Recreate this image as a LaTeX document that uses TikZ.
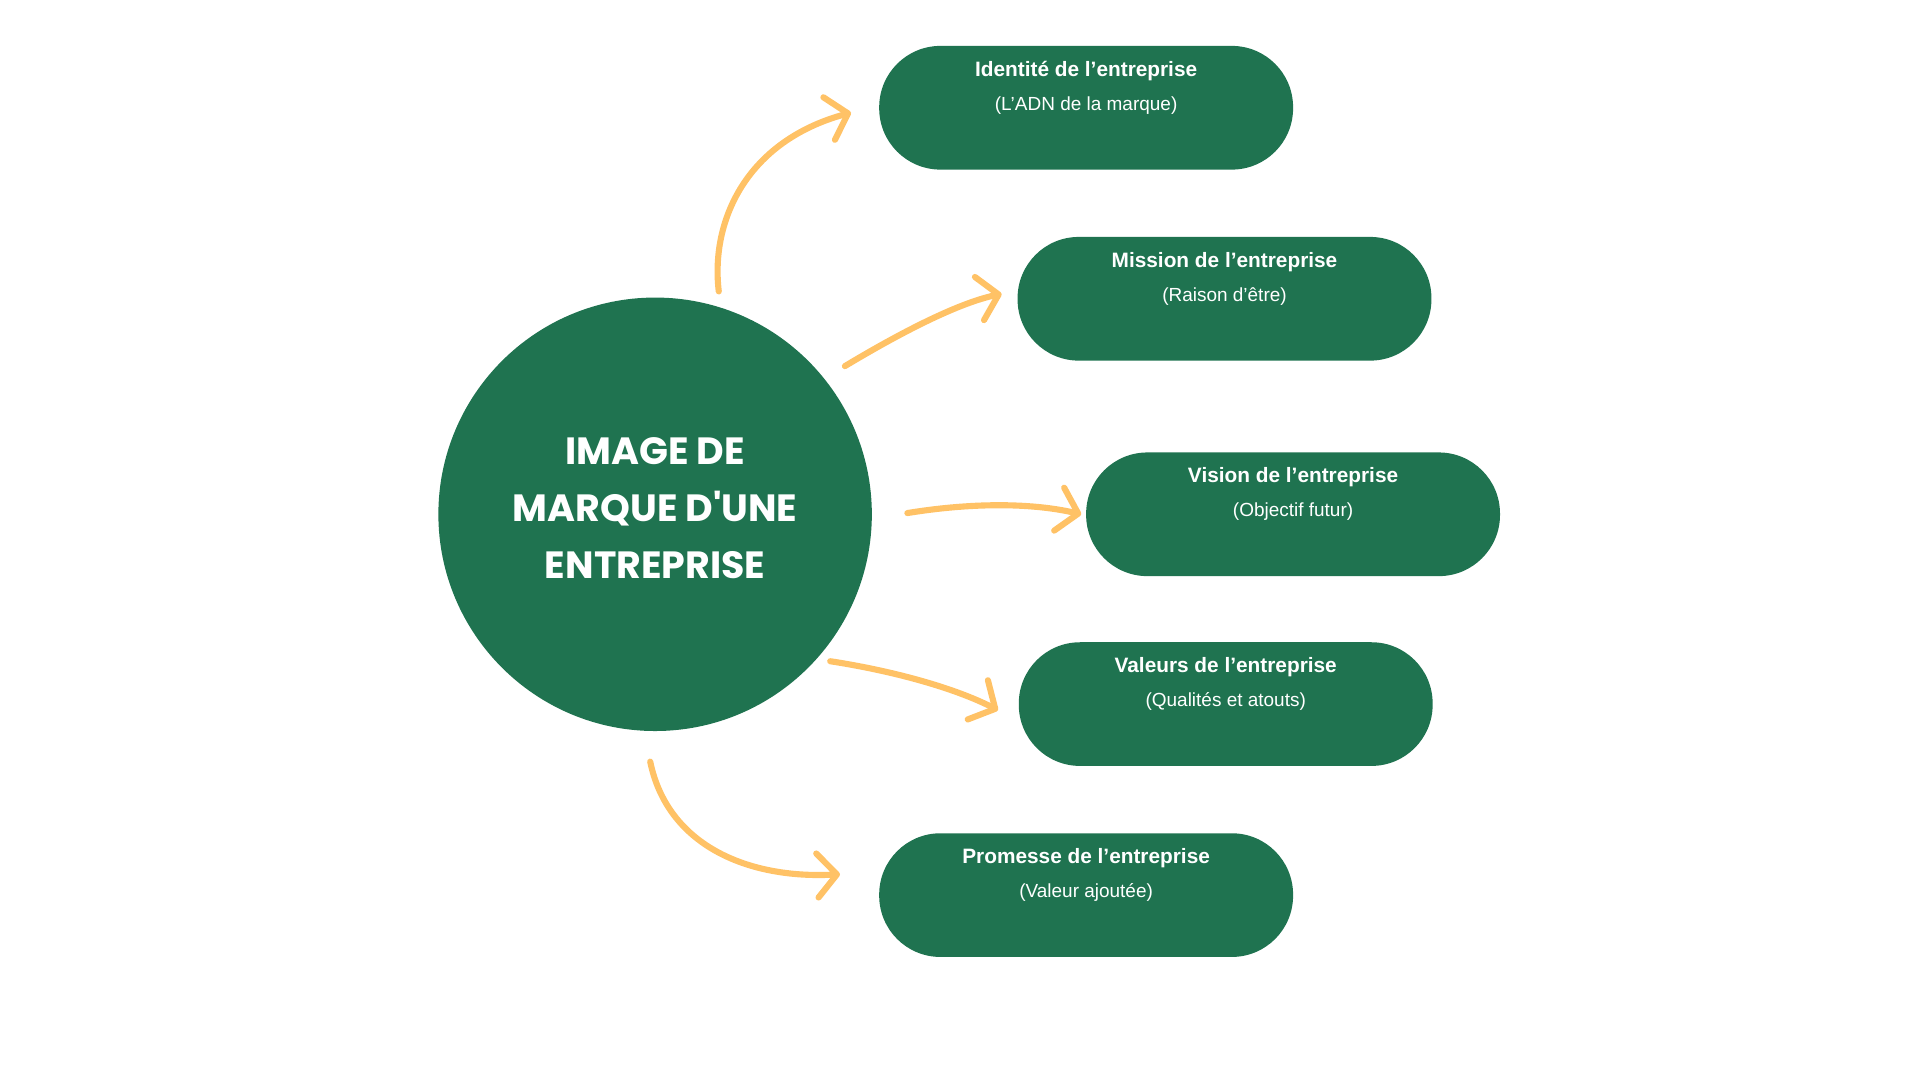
\documentclass[tikz,border=0pt]{standalone}
\usepackage{fontspec}
\setmainfont{Liberation Sans}
\newfontfamily\heavy{Poppins}
\usetikzlibrary{arrows.meta}
\definecolor{grn}{HTML}{1F7350}
\definecolor{org}{HTML}{FFC266}
\tikzset{
 pill/.style={fill=grn,rounded corners=50pt,minimum width=338pt,minimum height=101pt,inner sep=0pt},
 arr/.style={draw=org,line width=5pt,line cap=round,-{Straight Barb[length=16pt,width=36pt,line width=5pt,round]}}
}
\begin{document}
\begin{tikzpicture}[x=1pt,y=-1pt]
\useasboundingbox (0,0) rectangle (1568,882);
\node[circle,fill=grn,minimum size=354pt,inner sep=0pt] (c) at (535,420) {};
\node[text=white,align=center,font=\heavy\bfseries\fontsize{31}{46.5}\selectfont] (ct) at (535,415) {IMAGE DE\\MARQUE D'UNE\\ENTREPRISE};
\foreach \n/\x/\y/\t/\s in {p1/887/88/Identité de l'entreprise/(L'ADN de la marque),
 p2/1000/244/Mission de l'entreprise/(Raison d'être),
 p3/1056/420/Vision de l'entreprise/(Objectif futur),
 p4/1001/575/Valeurs de l'entreprise/(Qualités et atouts),
 p5/887/731/Promesse de l'entreprise/(Valeur ajoutée)}{
 \node[pill] (\n) at (\x,\y) {};
 \node[text=white,align=center,font=\fontsize{15.5}{21}\selectfont,anchor=north] (\n t) at ([yshift=-9pt]\n.north) {\textbf{\fontsize{17}{21}\selectfont\t}\\[7pt]\s};
}
\coordinate (s1) at (587,238); \coordinate (e1) at (695,92);
\coordinate (s2) at (690,299); \coordinate (e2) at (818,240);
\coordinate (s3) at (741,419); \coordinate (e3) at (883,420);
\coordinate (s4) at (678,540); \coordinate (e4) at (815,580);
\coordinate (s5) at (531,622); \coordinate (e5) at (686,714);
\draw[arr] (s1) .. controls (580,180) and (610,115) .. (e1);
\draw[arr] (s2) .. controls (730,275) and (780,248) .. (e2);
\draw[arr] (s3) .. controls (790,411) and (840,410) .. (e3);
\draw[arr] (s4) .. controls (730,548) and (780,562) .. (e4);
\draw[arr] (s5) .. controls (545,690) and (610,718) .. (e5);
\end{tikzpicture}
\end{document}
